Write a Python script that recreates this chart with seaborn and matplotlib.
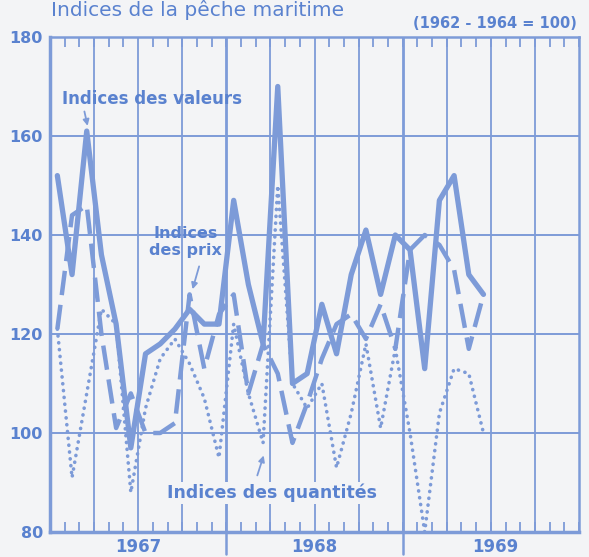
import matplotlib
matplotlib.use("Agg")
import matplotlib.pyplot as plt
import seaborn as sns
import pandas as pd

# ---- data (monthly, Jan 1967 .. Jun 1969) ----
mois = [m + 0.5 for m in range(30)]
valeurs = [152, 132, 161, 136, 122, 97, 116, 118, 121, 125, 122, 122,
           147, 130, 118, 170, 110, 112, 126, 116, 132, 141, 128, 140,
           137, 113, 147, 152, 132, 128]
prix = [121, 144, 146, 120, 101, 108, 100, 100, 102, 128, 113, 124,
        128, 108, 118, 112, 98, 106, 115, 122, 124, 119, 126, 117,
        137, 140, 138, 133, 117, 128]
quantites = [121, 91, 108, 125, 122, 88, 105, 115, 119, 114, 107, 95,
             122, 108, 98, 150, 110, 105, 110, 93, 104, 118, 101, 117,
             100, 80, 104, 113, 112, 100]
annees = ["1967", "1968", "1969"]
yticks = [80, 100, 120, 140, 160, 180]

df = pd.DataFrame({"mois": mois, "valeurs": valeurs, "prix": prix,
                   "quantites": quantites})

sns.set_theme(style="white")
plt.rcParams["font.family"] = ["DejaVu Sans"]

LINE = "#7d9bd8"
TXT = "#5a82cf"
BG = "#f3f4f6"

fig = plt.figure(figsize=(5.89, 5.57), dpi=100, facecolor=BG)
ax = fig.add_axes([50 / 589, 25 / 557, 529 / 589, 495 / 557])
ax.set_facecolor(BG)

ax.set_xlim(0, 36)
ax.set_ylim(80, 180)

# grid
for y in [100, 120, 140, 160]:
    ax.axhline(y, color=LINE, lw=1.4, zorder=1)
for x in range(3, 36, 3):
    ax.axvline(x, color=LINE, lw=2.0 if x % 12 == 0 else 1.3, zorder=1)

sns.lineplot(data=df, x="mois", y="valeurs", ax=ax, color=LINE, lw=3.8,
             solid_joinstyle="round", solid_capstyle="round", zorder=4)
sns.lineplot(data=df, x="mois", y="prix", ax=ax, color=LINE, lw=3.2,
             linestyle=(0, (5.5, 2.2)), dash_capstyle="butt", zorder=3)
sns.lineplot(data=df, x="mois", y="quantites", ax=ax, color=LINE, lw=2.6,
             linestyle=(0, (0.05, 1.85)), dash_capstyle="round", zorder=2)

# spines
for s in ax.spines.values():
    s.set_color(LINE)
    s.set_linewidth(1.8)
ax.spines["left"].set_linewidth(2.5)
ax.spines["bottom"].set_linewidth(2.5)

# ticks
ax.set_xticks(range(0, 37), minor=True)
ax.set_xticks([6, 18, 30.3])
ax.set_xticklabels(annees, fontsize=12, color=TXT, fontweight="bold")
ax.tick_params(axis="x", which="major", length=0, pad=4)
ax.tick_params(axis="x", which="minor", direction="in", length=7,
               width=1.3, color=LINE, top=True, bottom=True)
ax.set_yticks(yticks)
ax.set_yticklabels([str(v) for v in yticks], fontsize=11.5, color=TXT,
                   fontweight="bold")
ax.tick_params(axis="y", length=0, pad=5)
ax.set_xlabel("")
ax.set_ylabel("")

# year separators below axis
for x in [12, 24]:
    ax.plot([x, x], [80, 75.5], color=LINE, lw=1.8, clip_on=False, zorder=5)

# annotations
ap = dict(arrowstyle="-|>", color=LINE, lw=1.3, mutation_scale=9)
ax.text(6.95, 167.4, "Indices des valeurs", ha="center", va="center",
        fontsize=12, color=TXT, fontweight="bold", zorder=6)
ax.annotate("", xy=(2.6, 161.5), xytext=(2.3, 165.5), arrowprops=ap)
ax.text(9.2, 138.6, "Indices\ndes prix", ha="center", va="center",
        fontsize=11.5, color=TXT, fontweight="bold", linespacing=1.15,
        zorder=6)
ax.annotate("", xy=(9.65, 128.5), xytext=(10.2, 134.2), arrowprops=ap)
ax.text(15.1, 87.9, "Indices des quantités", ha="center", va="center",
        fontsize=12.5, color=TXT, fontweight="bold", zorder=6,
        bbox=dict(facecolor=BG, edgecolor="none", pad=1))
ax.annotate("", xy=(14.6, 96.0), xytext=(14.05, 90.9), arrowprops=ap)

# titles
fig.text(51 / 589, 1 - 16 / 557, "Indices de la pêche maritime",
         ha="left", va="baseline", fontsize=14.5, color=TXT)
fig.text(577 / 589, 1 - 23 / 557, "(1962 - 1964 = 100)", ha="right",
         va="center", fontsize=10.5, color=TXT, fontweight="bold")

fig.savefig("out.png", dpi=100, facecolor=BG)
